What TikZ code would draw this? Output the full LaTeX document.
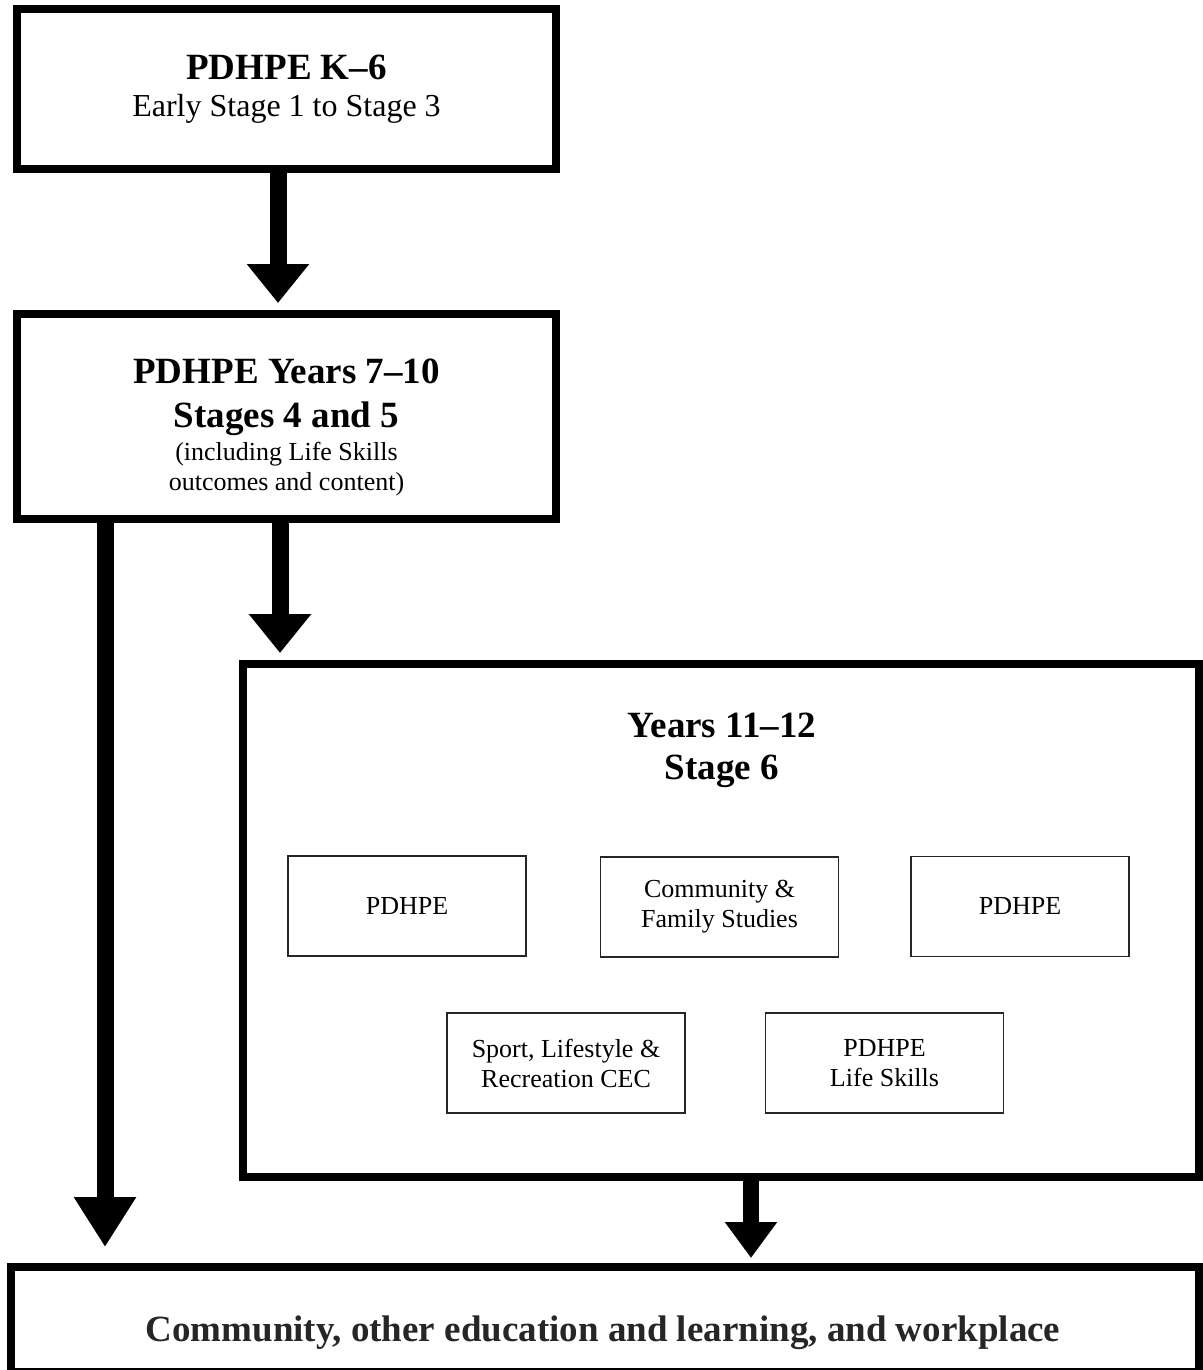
\documentclass[tikz,border=0pt]{standalone}
\usepackage{fontspec}
\setmainfont{Liberation Serif}
\usetikzlibrary{arrows.meta}

\tikzset{
	stagebox/.style={draw, line width=4.25pt, inner sep=0pt},
	coursebox/.style={draw=black!85, line width=0.8pt, inner sep=0pt, minimum width=119pt, minimum height=50pt, align=center, font=\fontsize{13}{15}\selectfont},
	flow/.style={line width=8.5pt, -{Triangle[width=30pt,length=19.5pt]}},
	bigtitle/.style={font=\bfseries\fontsize{18.5}{21}\selectfont}
}

\begin{document}
\begin{tikzpicture}[x=0.5pt,y=-0.5pt]
	\useasboundingbox (0,0) rectangle (1203,1370);

	\node[stagebox, minimum width=269.5pt, minimum height=80pt, align=center, font=\fontsize{16}{18.5}\selectfont] (k6) at (286.5,89) {{\bfseries\fontsize{18.5}{22}\selectfont PDHPE K--6}\\Early Stage 1 to Stage 3};

	\node[stagebox, minimum width=269.5pt, minimum height=102.5pt] (y710) at (286.5,416.5) {};
	\node[align=center, font=\fontsize{13}{15}\selectfont] (y710txt) at (286.5,427) {{\bfseries\fontsize{18.5}{22}\selectfont PDHPE Years 7--10}\\[7pt]{\bfseries\fontsize{18.5}{22}\selectfont Stages 4 and 5}\\[1.5pt](including Life Skills\\outcomes and content)};

	\node[stagebox, minimum width=478pt, minimum height=256.5pt] (y1112) at (721,920.5) {};
	\node[bigtitle, align=center] (y1112txt) at (722,750) {Years 11--12\\Stage 6};

	\node[coursebox] (pdhpe) at (407,906) {PDHPE};
	\node[coursebox] (cafs) at (719.5,907) {Community \&\\Family Studies};
	\node[coursebox, minimum width=109pt] (pdhpeb) at (1020,906.5) {PDHPE};
	\node[coursebox] (slr) at (566,1063) {Sport, Lifestyle \&\\Recreation CEC};
	\node[coursebox] (lifeskills) at (884.5,1063) {PDHPE\\Life Skills};

	\node[stagebox, minimum width=594pt, minimum height=52.5pt] (dest) at (605,1319.5) {};
	\node[bigtitle, text=black!85] (desttxt) at (603,1333) {Community, other education and learning, and workplace};

	\coordinate (tipa) at (278,303);
	\coordinate (tipb) at (280,653);
	\coordinate (tipc) at (105,1247);
	\coordinate (tipd) at (751,1258);

	\draw[flow] (k6.south -| tipa) -- (tipa);
	\draw[flow] (y710.south -| tipb) -- (tipb);
	\draw[flow, -{Triangle[width=29.5pt,length=25pt]}] (y710.south -| tipc) -- (tipc);
	\draw[flow, line width=8pt, -{Triangle[width=25pt,length=18pt]}] (y1112.south -| tipd) -- (tipd);
\end{tikzpicture}
\end{document}
